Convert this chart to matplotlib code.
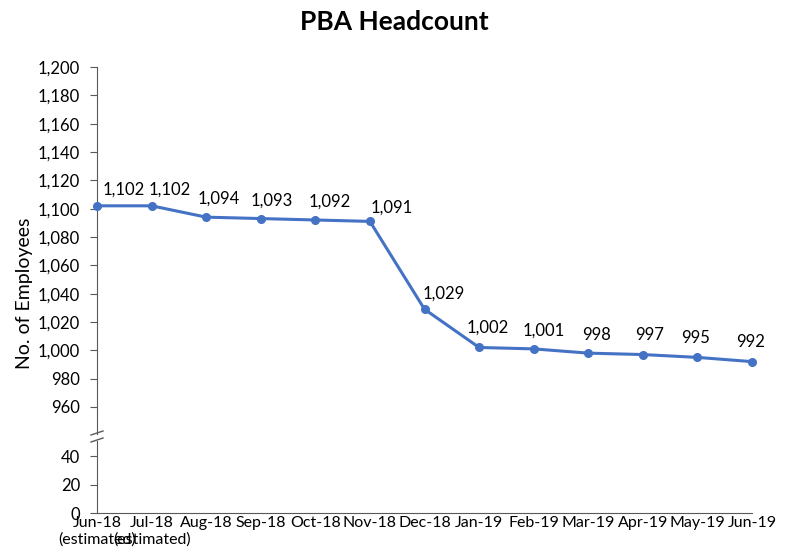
import matplotlib.pyplot as plt
from matplotlib.ticker import FuncFormatter

# data
months = ["Jun-18\n(estimated)", "Jul-18\n(estimated)", "Aug-18", "Sep-18", "Oct-18", "Nov-18",
          "Dec-18", "Jan-19", "Feb-19", "Mar-19", "Apr-19", "May-19", "Jun-19"]
headcount = [1102, 1102, 1094, 1093, 1092, 1091, 1029, 1002, 1001, 998, 997, 995, 992]
top_ticks = list(range(960, 1201, 20))
bottom_ticks = [0, 20, 40]

plt.rcParams['font.family'] = ['Lato', 'DejaVu Sans']
blue = '#4472C4'
axcol = '#595959'

W, H = 788, 552
fig = plt.figure(figsize=(W / 100, H / 100), dpi=100)

def box(x0, y0, x1, y1):
    # pixel box -> figure fraction
    return [x0 / W, 1 - y1 / H, (x1 - x0) / W, (y1 - y0) / H]

ax = fig.add_axes(box(97, 67, 752, 434))
axb = fig.add_axes(box(97, 441, 752, 513), sharex=ax)

x = list(range(len(months)))
ax.plot(x, headcount, color=blue, lw=2.2, marker='o', ms=5.5, clip_on=False, zorder=3)

ax.set_ylim(1200 - 367 / 28.33 * 20, 1200)
axb.set_ylim(0, 72 / 28.4 * 20)
ax.set_xlim(0, len(months) - 1)

fmt = FuncFormatter(lambda v, p: f"{int(v):,}")
ax.set_yticks(top_ticks)
ax.yaxis.set_major_formatter(fmt)
axb.set_yticks(bottom_ticks)

for a in (ax, axb):
    for s in ('top', 'right'):
        a.spines[s].set_visible(False)
    a.spines['left'].set_color(axcol)
    a.tick_params(axis='y', length=5, color=axcol, labelsize=12, pad=7)
ax.spines['bottom'].set_visible(False)
axb.spines['bottom'].set_color(axcol)
ax.tick_params(axis='x', bottom=False, labelbottom=False)
axb.set_xticks(x)
axb.set_xticklabels(months, fontsize=11.5, linespacing=1.2)
axb.tick_params(axis='x', length=0, pad=2)

# break marks on the y axis
for yy in (433, 440):
    fig.add_artist(plt.Line2D([91 / W, 103 / W], [1 - (yy + 2) / H, 1 - (yy - 2) / H],
                              color=axcol, lw=1))

# data labels (offsets in points)
offsets = [(19, 12), (13, 12), (9, 13), (8, 13), (10, 13), (16, 10),
           (14, 11), (6, 14), (7, 13), (6, 13), (5, 14), (-1, 14), (-1, 14)]
for xi, v, (dx, dy) in zip(x, headcount, offsets):
    ax.annotate(f"{v:,}", (xi, v), xytext=(dx, dy), textcoords='offset points',
                ha='center', va='center', fontsize=12)

ax.set_ylabel("No. of Employees", fontsize=14)
ax.yaxis.set_label_coords(-0.0977, 0.384)
fig.text(0.5, 1 - 22 / H, "PBA Headcount", ha='center', va='center',
         fontsize=19, fontweight='bold')

fig.savefig("out.png", dpi=100)
